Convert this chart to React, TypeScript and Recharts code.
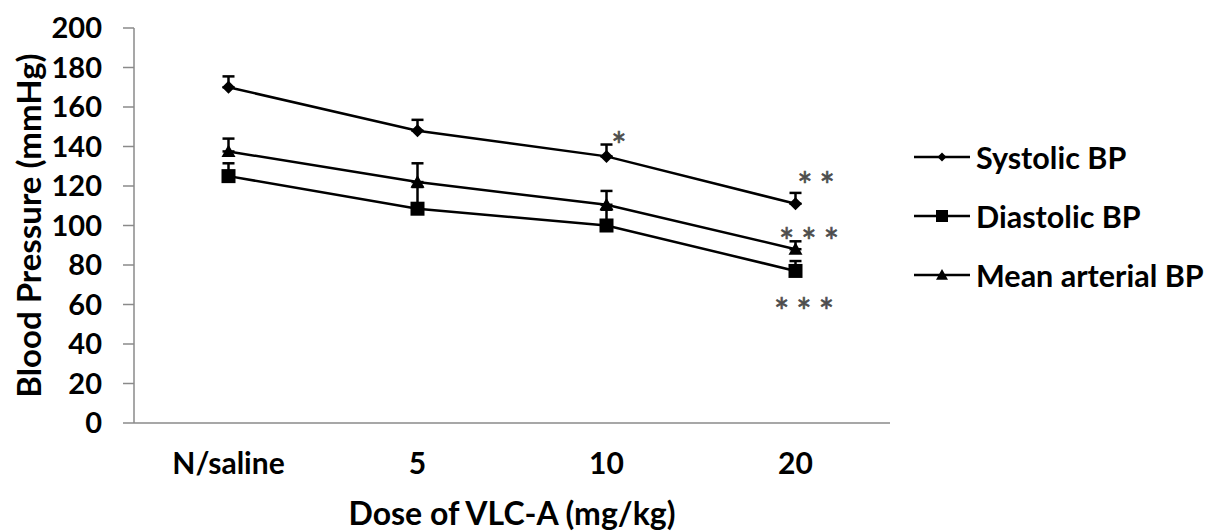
import { ErrorBar, LabelList, Legend, Line, LineChart, XAxis, YAxis } from 'recharts'

const doses = ['N/saline', '5', '10', '20']
const positions = [0.5, 1.5, 2.5, 3.5]
const systolic = [170, 148, 135, 111]
const systolicErr = [5.5, 5.5, 6, 5.5]
const diastolic = [125, 108.5, 100, 77]
const diastolicErr = [6.5, 11, 8, 5]
const meanArterial = [137.5, 122, 110.5, 88]
const meanArterialErr = [6.5, 9.5, 7, 4]
const systolicStars = ['', '', '*', '**']
const diastolicStars = ['', '', '', '***']
const meanStars = ['', '', '', '***']
const yTicks = [0, 20, 40, 60, 80, 100, 120, 140, 160, 180, 200]
const boundaryTicks = [0, 1, 2, 3, 4]

const data = doses.map((dose, i) => ({
  dose,
  pos: positions[i],
  sys: systolic[i],
  sysErr: [0, systolicErr[i]],
  sysStar: systolicStars[i],
  dia: diastolic[i],
  diaErr: [0, diastolicErr[i]],
  diaStar: diastolicStars[i],
  map: meanArterial[i],
  mapErr: [0, meanArterialErr[i]],
  mapStar: meanStars[i],
}))

const FONT = 'Lato, "DejaVu Sans", sans-serif'
const AXIS = '#8a8a8a'

function Diamond({ cx, cy, r = 6 }: { cx?: number; cy?: number; r?: number }) {
  if (cx == null || cy == null) return null
  return <path d={`M${cx},${cy - r}L${cx + r},${cy}L${cx},${cy + r}L${cx - r},${cy}Z`} fill="#000" />
}
function Square({ cx, cy, r = 6.5 }: { cx?: number; cy?: number; r?: number }) {
  if (cx == null || cy == null) return null
  return <rect x={cx - r} y={cy - r} width={r * 2} height={r * 2} fill="#000" />
}
function Triangle({ cx, cy, r = 7 }: { cx?: number; cy?: number; r?: number }) {
  if (cx == null || cy == null) return null
  return <path d={`M${cx},${cy - r}L${cx + r},${cy + r * 0.8}L${cx - r},${cy + r * 0.8}Z`} fill="#000" />
}

// significance asterisks, offset from the point
function stars(dx: number, dy: number) {
  return (p: any) => {
    if (!p.value) return null
    return (
      <text
        x={p.x + dx + 4}
        y={p.y + dy + 17}
        textAnchor="middle"
        fill="#4d4d4d"
        fontSize={36}
        fontFamily={FONT}
        letterSpacing={7}
        stroke="#4d4d4d"
        strokeWidth={0.6}
      >
        {p.value}
      </text>
    )
  }
}

const legendItems = [
  { name: 'Systolic BP', Marker: Diamond, r: 4.5 },
  { name: 'Diastolic BP', Marker: Square, r: 6 },
  { name: 'Mean arterial BP', Marker: Triangle, r: 6 },
]

function LegendBox() {
  return (
    <div style={{ fontFamily: FONT, fontWeight: 700, fontSize: 30.5, color: '#000' }}>
      {legendItems.map(({ name, Marker, r }) => (
        <div key={name} style={{ display: 'flex', alignItems: 'center', height: 59 }}>
          <svg width={60} height={20} style={{ marginRight: 4 }}>
            <line x1={2} y1={10} x2={58} y2={10} stroke="#000" strokeWidth={2.5} />
            <Marker cx={30} cy={10} r={r} />
          </svg>
          <span>{name}</span>
        </div>
      ))}
    </div>
  )
}

export default function App() {
  return (
    <div style={{ position: 'absolute', left: 0, top: 0, background: '#fff' }}>
      <LineChart width={1208} height={531} data={data} margin={{ top: 28, right: 318, bottom: 0, left: 0 }}>
        {/* axis line with tick marks between categories */}
        <XAxis
          xAxisId={0}
          type="number"
          dataKey="pos"
          domain={[0, 4]}
          ticks={boundaryTicks}
          interval={0}
          tick={false}
          tickSize={10}
          stroke={AXIS}
          strokeWidth={1.5}
          height={1}
        />
        {/* category names at the centres */}
        <XAxis
          xAxisId={1}
          type="number"
          dataKey="pos"
          domain={[0, 4]}
          ticks={positions}
          interval={0}
          tickFormatter={(v: number) => doses[positions.indexOf(v)] ?? ''}
          axisLine={false}
          tickLine={false}
          tickMargin={23}
          tick={{ fill: '#000', fontSize: 30, fontWeight: 700, fontFamily: FONT }}
          height={107}
          label={{
            value: 'Dose of VLC-A (mg/kg)',
            position: 'insideBottom',
            offset: 6,
            style: { fill: '#000', fontSize: 32, fontWeight: 700, fontFamily: FONT },
          }}
        />
        <YAxis
          domain={[0, 200]}
          ticks={yTicks}
          interval={0}
          width={134}
          tickSize={11}
          tickMargin={21}
          stroke={AXIS}
          strokeWidth={1.5}
          tick={{ fill: '#000', fontSize: 29, fontWeight: 700, fontFamily: FONT }}
          label={{
            value: 'Blood Pressure (mmHg)',
            angle: -90,
            position: 'insideLeft',
            offset: 29,
            style: { textAnchor: 'middle', fill: '#000', fontSize: 33, fontWeight: 700, fontFamily: FONT },
          }}
        />
        <Legend
          layout="vertical"
          align="center"
          verticalAlign="middle"
          content={() => <LegendBox />}
          wrapperStyle={{ position: 'absolute', left: 912, top: 127, width: 300 }}
        />
        <Line
          xAxisId={0}
          dataKey="sys"
          name="Systolic BP"
          stroke="#000"
          strokeWidth={2.5}
          dot={(p: any) => <Diamond key={`s${p.index}`} cx={p.cx} cy={p.cy} r={6.5} />}
          isAnimationActive={false}
        >
          <ErrorBar dataKey="sysErr" direction="y" width={6} stroke="#000" strokeWidth={2.5} />
          <LabelList dataKey="sysStar" content={(p: any) => stars(p.value === '*' ? 12 : 20, p.value === '*' ? -14 : -22)(p)} />
        </Line>
        <Line
          xAxisId={0}
          dataKey="dia"
          name="Diastolic BP"
          stroke="#000"
          strokeWidth={2.5}
          dot={(p: any) => <Square key={`d${p.index}`} cx={p.cx} cy={p.cy} r={7} />}
          isAnimationActive={false}
        >
          <ErrorBar dataKey="diaErr" direction="y" width={6} stroke="#000" strokeWidth={2.5} />
          <LabelList dataKey="diaStar" content={stars(8, 37)} />
        </Line>
        <Line
          xAxisId={0}
          dataKey="map"
          name="Mean arterial BP"
          stroke="#000"
          strokeWidth={2.5}
          dot={(p: any) => <Triangle key={`m${p.index}`} cx={p.cx} cy={p.cy} r={7} />}
          isAnimationActive={false}
        >
          <ErrorBar dataKey="mapErr" direction="y" width={6} stroke="#000" strokeWidth={2.5} />
          <LabelList dataKey="mapStar" content={stars(13, -11)} />
        </Line>
      </LineChart>
    </div>
  )
}
